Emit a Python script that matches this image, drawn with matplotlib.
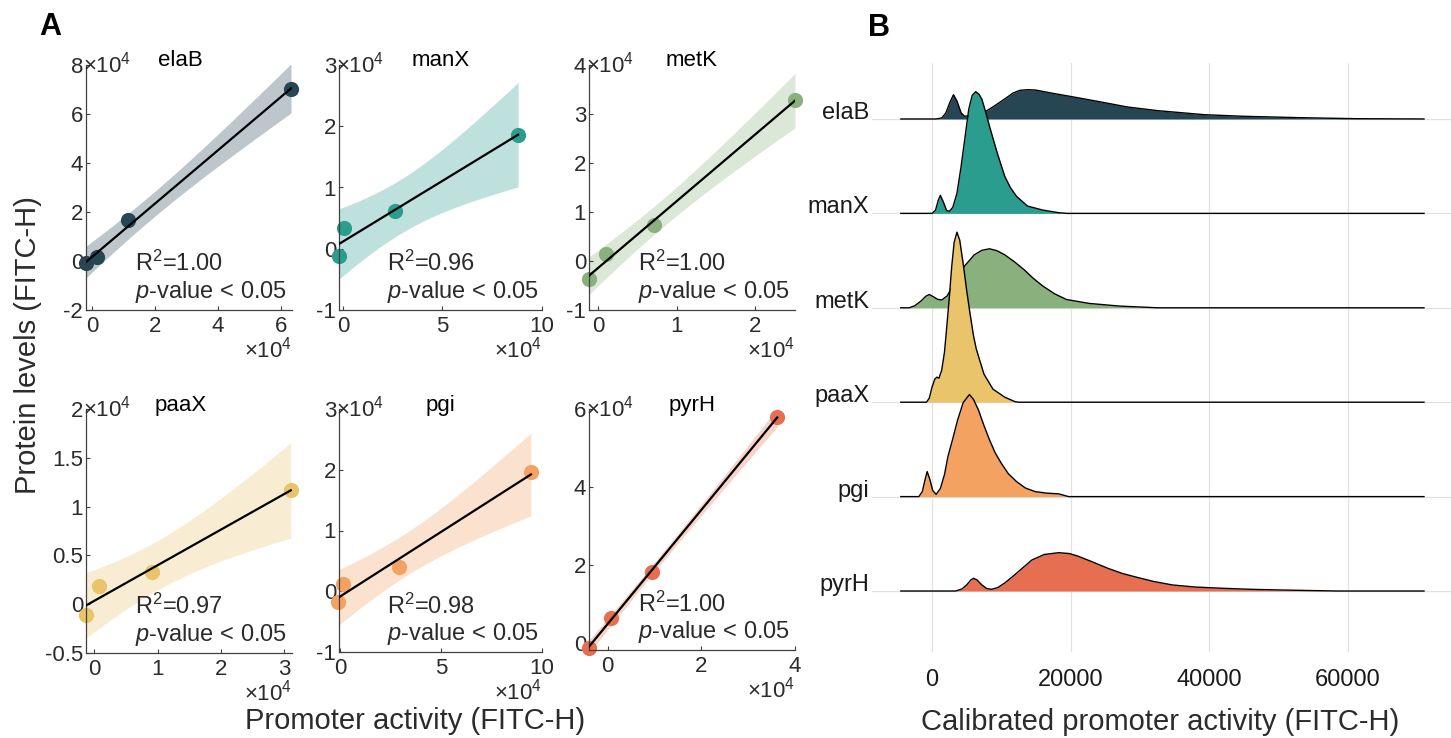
import numpy as np
import matplotlib
matplotlib.use("Agg")
import matplotlib.pyplot as plt

plt.rcParams['font.family'] = ['Liberation Sans', 'DejaVu Sans']
plt.rcParams['mathtext.fontset'] = 'custom'
plt.rcParams['mathtext.rm'] = 'Liberation Sans'
plt.rcParams['mathtext.it'] = 'Liberation Sans:italic'
plt.rcParams['mathtext.bf'] = 'Liberation Sans:bold'

# ---------------- data ----------------
genes = ["elaB", "manX", "metK", "paaX", "pgi", "pyrH"]
colors = ["#264653", "#2a9d8f", "#8ab17d", "#e9c46a", "#f4a261", "#e76f51"]

# Panel A: promoter activity (x, in 1e4) vs protein level (y, in 1e4)
promoter_elaB = [-0.19, 0.15, 1.13, 6.32]
protein_elaB = [-0.09, 0.15, 1.67, 7.00]
promoter_manX = [-0.20, 0.05, 2.60, 8.80]
protein_manX = [-0.12, 0.34, 0.62, 1.86]
promoter_metK = [-0.115, 0.10, 0.71, 2.51]
protein_metK = [-0.37, 0.14, 0.73, 3.29]
promoter_paaX = [-0.13, 0.07, 0.91, 3.10]
protein_paaX = [-0.11, 0.19, 0.33, 1.17]
promoter_pgi = [-0.10, 0.15, 2.90, 9.45]
protein_pgi = [-0.18, 0.12, 0.40, 1.96]
promoter_pyrH = [-0.40, 0.06, 0.94, 3.62]
protein_pyrH = [-0.12, 0.64, 1.82, 5.79]

promoter = [promoter_elaB, promoter_manX, promoter_metK, promoter_paaX, promoter_pgi, promoter_pyrH]
protein = [protein_elaB, protein_manX, protein_metK, protein_paaX, protein_pgi, protein_pyrH]
r2_labels = ["1.00", "0.96", "1.00", "0.97", "0.98", "1.00"]

x_limits = [(-0.19, 6.35), (-0.2, 10), (-0.115, 2.51), (-0.13, 3.12), (-0.07, 10), (-0.4, 4)]
y_limits = [(-2, 8), (-1, 3), (-1, 4), (-0.5, 2), (-1, 3), (-0.18, 6)]
x_ticks = [[0, 2, 4, 6], [0, 5, 10], [0, 1, 2], [0, 1, 2, 3], [0, 5, 10], [0, 2, 4]]
y_ticks = [[-2, 0, 2, 4, 6, 8], [-1, 0, 1, 2, 3], [-1, 0, 1, 2, 3, 4],
           [-0.5, 0, 0.5, 1, 1.5, 2], [-1, 0, 1, 2, 3], [0, 2, 4, 6]]
y_ticklabels = [["-2", "0", "2", "4", "6", "8"], ["-1", "0", "1", "2", "3"],
                ["-1", "0", "1", "2", "3", "4"], ["-0.5", "0", "0.5", "1", "1.5", "2"],
                ["-1", "0", "1", "2", "3"], ["0", "2", "4", "6"]]
t_crit = 4.303  # t(0.975, df=2)

# Panel B: ridge density outlines (x in thousands, height in row units)
elaB_x = [-4.5, 0.6, 1.4, 2.0, 2.6, 3.1, 3.6, 4.2, 4.7, 5.5, 6.5, 7.8, 9.0, 10.5, 11.7, 12.7, 13.8,
          14.9, 17.2, 19.9, 23.8, 28.2, 32.6, 39.2, 44.7, 53.0, 61.3, 71.0]
elaB_h = [0, 0, 0.011, 0.064, 0.18, 0.257, 0.19, 0.064, 0.029, 0.037, 0.058, 0.082, 0.138, 0.212,
          0.275, 0.304, 0.31, 0.307, 0.275, 0.24, 0.188, 0.127, 0.088, 0.046, 0.029, 0.014, 0.003, 0]
manX_x = [-4.5, 0.0, 0.5, 0.9, 1.2, 1.6, 2.1, 2.5, 3.0, 3.6, 4.2, 4.8, 5.3, 5.8, 6.3, 6.8, 7.2, 7.8,
          8.3, 9.4, 10.5, 11.3, 12.2, 13.8, 16.0, 18.3, 19.5, 71.0]
manX_h = [0, 0, 0.032, 0.138, 0.191, 0.127, 0.032, 0.021, 0.064, 0.212, 0.498, 0.826, 1.102, 1.25,
          1.289, 1.261, 1.208, 1.059, 0.922, 0.643, 0.392, 0.275, 0.18, 0.077, 0.035, 0.007, 0, 0]
metK_x = [-4.5, -3.3, -2.5, -1.6, -0.9, -0.4, 0.2, 0.8, 1.4, 2.2, 3.0, 3.8, 4.7, 6.1, 7.2, 8.3, 9.4,
          10.5, 11.9, 13.3, 14.6, 16.0, 17.7, 19.4, 22.7, 27.1, 32.6, 71.0]
metK_h = [0, 0, 0.021, 0.071, 0.122, 0.141, 0.117, 0.09, 0.082, 0.127, 0.233, 0.339, 0.442, 0.561,
          0.609, 0.625, 0.604, 0.561, 0.487, 0.403, 0.313, 0.23, 0.148, 0.088, 0.046, 0.018, 0, 0]
paaX_x = [-4.5, -0.8, -0.4, 0.0, 0.4, 0.7, 1.0, 1.4, 1.8, 2.1, 2.5, 2.85, 3.2, 3.6, 4.0, 4.55, 5.0,
          5.5, 6.0, 6.4, 7.5, 8.8, 10.5, 12.0, 12.5, 71.0]
paaX_h = [0, 0, 0.042, 0.159, 0.244, 0.265, 0.254, 0.339, 0.53, 0.773, 1.112, 1.441, 1.695, 1.801,
          1.716, 1.441, 1.186, 0.932, 0.699, 0.561, 0.297, 0.138, 0.053, 0.005, 0, 0]
pgi_x = [-4.5, -1.9, -1.4, -1.0, -0.7, -0.3, 0.1, 0.6, 1.2, 1.8, 2.3, 3.0, 3.7, 4.5, 5.4, 6.0, 6.7,
         7.5, 8.3, 9.1, 10.0, 11.0, 12.2, 13.5, 14.9, 16.5, 18.3, 19.7, 71.0]
pgi_h = [0, 0, 0.053, 0.18, 0.265, 0.18, 0.064, 0.024, 0.085, 0.233, 0.424, 0.614, 0.812, 0.996,
         1.081, 1.028, 0.918, 0.752, 0.601, 0.466, 0.353, 0.244, 0.159, 0.09, 0.053, 0.037, 0.029, 0, 0]
pyrH_x = [-4.5, 3.4, 4.3, 5.0, 5.6, 6.0, 6.5, 7.2, 7.9, 8.6, 9.5, 10.5, 11.6, 12.9, 14.4, 16.2, 18.3,
          19.8, 21.0, 23.0, 25.4, 27.5, 29.8, 32.0, 34.7, 38.0, 41.9, 46.0, 50.2, 58.5, 71.0]
pyrH_h = [0, 0, 0.021, 0.064, 0.117, 0.135, 0.117, 0.064, 0.026, 0.018, 0.037, 0.085, 0.151, 0.233,
          0.328, 0.387, 0.406, 0.397, 0.371, 0.313, 0.24, 0.185, 0.141, 0.101, 0.064, 0.042, 0.029,
          0.018, 0.011, 0, 0]
ridge_x = [elaB_x, manX_x, metK_x, paaX_x, pgi_x, pyrH_x]
ridge_h = [elaB_h, manX_h, metK_h, paaX_h, pgi_h, pyrH_h]
b_ticks = [0, 20000, 40000, 60000]

# ---------------- figure ----------------
W, H = 1451, 738
fig = plt.figure(figsize=(W / 100, H / 100), dpi=100)


def add_ax(l, t, r, b):
    return fig.add_axes([l / W, 1 - b / H, (r - l) / W, (b - t) / H])


boxes = [(86, 65, 292, 310), (339, 65, 542, 310), (589, 65, 795, 310),
         (86, 409, 292, 653), (339, 409, 542, 652), (589, 409, 795, 650)]
title_x = [0.46, 0.5, 0.5, 0.46, 0.5, 0.5]
axis_col = "#404040"
txt_col = "#2b2b2b"

for i, g in enumerate(genes):
    ax = add_ax(*boxes[i])
    x = np.array(promoter[i])
    y = np.array(protein[i])
    n = len(x)
    slope, intercept = np.polyfit(x, y, 1)
    resid = y - (slope * x + intercept)
    s = np.sqrt(np.sum(resid ** 2) / (n - 2))
    xx = np.linspace(x.min(), x.max(), 200)
    yy = slope * xx + intercept
    se = s * np.sqrt(1 / n + (xx - x.mean()) ** 2 / np.sum((x - x.mean()) ** 2))
    ax.fill_between(xx, yy - t_crit * se, yy + t_crit * se, color=colors[i], alpha=0.3,
                    lw=0, zorder=1)
    ax.scatter(x, y, s=120, color=colors[i], zorder=2, clip_on=False, lw=0)
    ax.plot(xx, yy, color="black", lw=1.6, zorder=3)
    ax.set_xlim(*x_limits[i])
    ax.set_ylim(*y_limits[i])
    ax.set_xticks(x_ticks[i])
    ax.set_xticklabels([str(v) for v in x_ticks[i]])
    ax.set_yticks(y_ticks[i])
    ax.set_yticklabels(y_ticklabels[i])
    for sp in ["top", "right"]:
        ax.spines[sp].set_visible(False)
    for sp in ["left", "bottom"]:
        ax.spines[sp].set_color(axis_col)
        ax.spines[sp].set_linewidth(0.9)
    ax.tick_params(direction="in", length=3, width=0.8, color=axis_col, labelsize=16,
                   labelcolor=txt_col, pad=2)
    ax.tick_params(axis="x", pad=4)
    ax.annotate("×10$^{4}$", xy=(0, 1), xycoords="axes fraction", xytext=(-3, 0),
                textcoords="offset pixels", ha="left", va="center", fontsize=16, color=txt_col)
    ax.annotate("×10$^{4}$", xy=(1, 0), xycoords="axes fraction", xytext=(0, -40),
                textcoords="offset pixels", ha="right", va="center", fontsize=16, color=txt_col)
    ax.annotate(g, xy=(title_x[i], 1), xycoords="axes fraction", xytext=(0, 4),
                textcoords="offset pixels", ha="center", va="center", fontsize=16, color="black")
    ax.text(0.237, 0.19, "R$^{2}$=" + r2_labels[i], transform=ax.transAxes, ha="left",
            va="center", fontsize=17, color=txt_col)
    ax.text(0.237, 0.075, "$p$-value < 0.05", transform=ax.transAxes, ha="left",
            va="center", fontsize=17, color=txt_col)

fig.text(415 / W, 1 - 721 / H, "Promoter activity (FITC-H)", ha="center", va="center",
         fontsize=21, color=txt_col)
fig.text(28 / W, 1 - 345 / H, "Protein levels (FITC-H)", ha="center", va="center",
         rotation=90, fontsize=21, color=txt_col)
fig.text(50 / W, 1 - 27 / H, "A", ha="center", va="center", fontsize=22, weight="bold")
fig.text(879 / W, 1 - 28 / H, "B", ha="center", va="center", fontsize=22, weight="bold")

# ---------------- panel B ----------------
axB = add_ax(872, 63, 1451, 652)
n_g = len(genes)
for i, g in enumerate(genes):
    row = n_g - 1 - i
    xs = np.array(ridge_x[i]) * 1000
    hs = np.array(ridge_h[i]) + row
    axB.fill_between(xs, row, hs, color=colors[i], lw=0, zorder=2 + 2 * i)
    axB.plot(xs, hs, color="black", lw=1.0, zorder=3 + 2 * i, solid_joinstyle="round")
axB.set_xlim(-8660, 74900)
axB.set_ylim(-0.646, 5.593)
axB.set_xticks(b_ticks)
axB.set_xticklabels([str(v) for v in b_ticks])
axB.set_yticks(list(range(n_g - 1, -1, -1)))
axB.set_yticklabels(genes)
for lab in axB.get_yticklabels():
    lab.set_verticalalignment("baseline")
axB.grid(True, color="#e2e2e2", lw=0.9, zorder=0)
axB.set_axisbelow(True)
for sp in axB.spines.values():
    sp.set_visible(False)
axB.tick_params(length=0, labelsize=17, labelcolor="#1a1a1a")
axB.tick_params(axis="x", pad=12)
axB.tick_params(axis="y", pad=2, labelsize=17)
fig.text(1160 / W, 1 - 722 / H, "Calibrated promoter activity (FITC-H)", ha="center",
         va="center", fontsize=21, color=txt_col)

fig.savefig("out.png", dpi=100)
